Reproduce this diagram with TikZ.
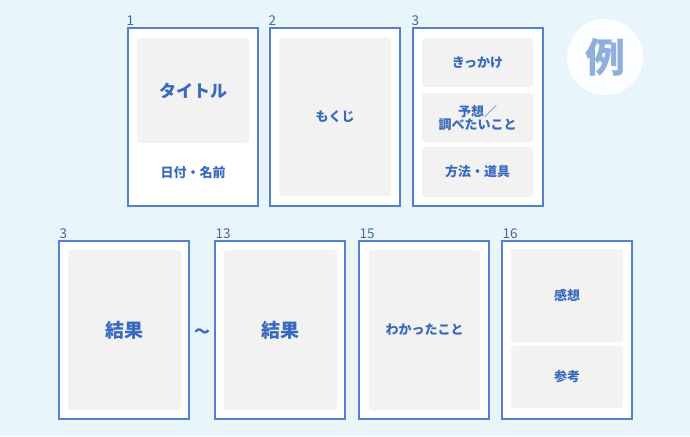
\documentclass[tikz,border=0pt]{standalone}
\usepackage{fontspec}
\setmainfont{Noto Sans CJK JP}
\newfontfamily\cjk{Noto Sans CJK JP}
\usepackage{xcolor}
\definecolor{sky_bg}{RGB}{232, 246, 252}
\definecolor{page_blue}{RGB}{86, 128, 204}
\definecolor{text_blue}{RGB}{56, 106, 190}
\definecolor{num_blue}{RGB}{70, 100, 160}
\definecolor{cell_gray}{RGB}{242, 242, 242}
\definecolor{rei_blue}{RGB}{143, 176, 222}
\usepackage{tikz}
\usetikzlibrary{positioning, calc}

\begin{document}
\begin{tikzpicture}[x=1pt, y=-1pt, font=\cjk\bfseries,
    pagebox/.style={draw=page_blue, line width=1.2pt, fill=white,
                    minimum width=130pt, minimum height=178pt, inner sep=0pt},
    cell/.style={fill=cell_gray, rounded corners=3pt, text=text_blue,
                 align=center, inner sep=0pt, font=\cjk\bfseries\fontsize{13}{16}\selectfont},
    pagenum/.style={anchor=south west, inner sep=0pt, text=num_blue,
                    font=\cjk\fontsize{13.5}{13.5}\selectfont}]
  % background
  \fill[sky_bg] (0,0) rectangle (690,436);
  \useasboundingbox (0,0) rectangle (690,436);

  % top row
  \node[pagebox] (p_one) at (193,117) {};
  \node[pagebox] (p_two) at (335,117) {};
  \node[pagebox] (p_three) at (478,117) {};
  \node[pagenum] at ($(p_one.north west)+(-1,-2)$) {1};
  \node[pagenum] at ($(p_two.north west)+(-1,-2)$) {2};
  \node[pagenum] at ($(p_three.north west)+(-1,-2)$) {3};

  \node[cell, minimum width=112pt, minimum height=105pt,
        font=\cjk\bfseries\fontsize{17}{20}\selectfont] (title) at (193,90.5) {タイトル};
  \node[text=text_blue, font=\cjk\bfseries\fontsize{13}{16}\selectfont] (date) at (193,173) {日付・名前};
  \node[cell, minimum width=112pt, minimum height=158pt] (toc) at (335,117) {もくじ};
  \node[cell, minimum width=111pt, minimum height=49pt] (reason) at (477.5,62.5) {きっかけ};
  \node[cell, minimum width=111pt, minimum height=49pt, text depth=0pt] (guess) at (477.5,117.5)
    {予想\textmd{／}\\[-3pt]調べたいこと};
  \node[cell, minimum width=111pt, minimum height=50pt] (method) at (477.5,172) {方法・道具};

  % example mark
  \node[circle, fill=white!85!sky_bg, minimum size=76pt, inner sep=0pt,
        text=rei_blue, font=\cjk\bfseries\fontsize{40}{40}\selectfont] (rei) at (605,57) {例};

  % bottom row
  \node[pagebox] (p_res_a) at (124,330) {};
  \node[pagebox] (p_res_b) at (280,330) {};
  \node[pagebox] (p_found) at (424,330) {};
  \node[pagebox] (p_last) at (567,330) {};
  \node[pagenum] at ($(p_res_a.north west)+(1,-2)$) {3};
  \node[pagenum] at ($(p_res_b.north west)+(1,-2)$) {13};
  \node[pagenum] at ($(p_found.north west)+(1,-2)$) {15};
  \node[pagenum] at ($(p_last.north west)+(1,-2)$) {16};

  \node[cell, minimum width=113pt, minimum height=160pt,
        font=\cjk\bfseries\fontsize{19}{22}\selectfont] (res_a) at (124.5,330) {結果};
  \node[cell, minimum width=113pt, minimum height=160pt,
        font=\cjk\bfseries\fontsize{19}{22}\selectfont] (res_b) at (280.5,330) {結果};
  \node[text=text_blue, inner sep=0pt, font=\cjk\bfseries\fontsize{16}{16}\selectfont]
    (wave) at (202,333) {〜};
  \node[cell, minimum width=111pt, minimum height=160pt] (found) at (424.5,330) {わかったこと};
  \node[cell, minimum width=112pt, minimum height=93pt] (thought) at (567,295.5) {感想};
  \node[cell, minimum width=112pt, minimum height=62pt] (refs) at (567,377) {参考};
\end{tikzpicture}
\end{document}
